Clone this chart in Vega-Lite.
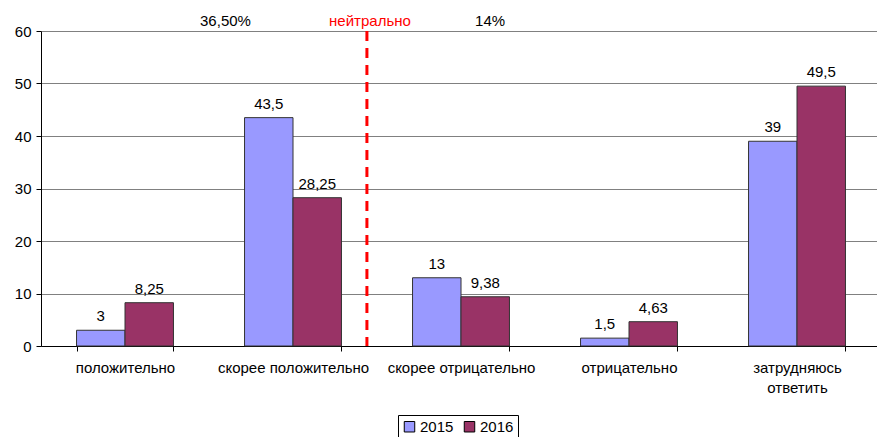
{
  "$schema": "https://vega.github.io/schema/vega-lite/v6.json",
  "width": 840,
  "height": 315,
  "autosize": {"type": "none"},
  "padding": {"left": 41, "top": 31, "right": 0, "bottom": 91},
  "background": "white",
  "config": {
    "font": "Liberation Sans",
    "view": {"stroke": null},
    "axis": {"labelFont": "Liberation Sans", "labelColor": "black", "labelFontSize": 15}
  },
  "datasets": {
    "bars": [
      {"cat": "положительно", "year": "2015", "value": 3, "label": "3"},
      {"cat": "положительно", "year": "2016", "value": 8.25, "label": "8,25"},
      {"cat": "скорее положительно", "year": "2015", "value": 43.5, "label": "43,5"},
      {"cat": "скорее положительно", "year": "2016", "value": 28.25, "label": "28,25"},
      {"cat": "скорее отрицательно", "year": "2015", "value": 13, "label": "13"},
      {"cat": "скорее отрицательно", "year": "2016", "value": 9.38, "label": "9,38"},
      {"cat": "отрицательно", "year": "2015", "value": 1.5, "label": "1,5"},
      {"cat": "отрицательно", "year": "2016", "value": 4.63, "label": "4,63"},
      {"cat": "затрудняюсь ответить", "year": "2015", "value": 39, "label": "39"},
      {"cat": "затрудняюсь ответить", "year": "2016", "value": 49.5, "label": "49,5"}
    ],
    "notes": [
      {"pos": 1.098, "y": 62, "text": "36,50%", "kind": "plain"},
      {"pos": 1.958, "y": 62, "text": "нейтрально", "kind": "red"},
      {"pos": 2.673, "y": 62, "text": "14%", "kind": "plain"}
    ],
    "divider": [{"pos": 1.94}]
  },
  "layer": [
    {
      "layer": [
        {
          "data": {"name": "bars"},
          "mark": {"type": "bar", "stroke": "#333333", "strokeWidth": 1},
          "encoding": {
            "x": {
              "field": "cat", "type": "nominal", "sort": null,
              "scale": {"paddingInner": 0.423, "paddingOuter": 0.2115},
              "axis": {
                "title": null, "labelAngle": 0, "domainColor": "black", "tickColor": "black",
                "tickBand": "extent", "tickSize": 5, "labelPadding": 9,
                "labelLineHeight": 20,
                "labelExpr": "datum.label == 'затрудняюсь ответить' ? ['затрудняюсь', 'ответить'] : datum.label"
              }
            },
            "xOffset": {"field": "year", "type": "nominal"},
            "y": {
              "field": "value", "type": "quantitative",
              "scale": {"domain": [0, 60], "nice": false},
              "axis": {
                "title": null, "values": [0, 10, 20, 30, 40, 50, 60],
                "domainColor": "black", "tickColor": "black", "tickSize": 5,
                "labelPadding": 5, "gridColor": "#808080", "gridOpacity": 1
              }
            },
            "color": {
              "field": "year", "type": "nominal",
              "scale": {"domain": ["2015", "2016"], "range": ["#9999FF", "#993366"]},
              "legend": {
                "title": null, "orient": "none", "legendX": 357, "legendY": 384,
                "direction": "horizontal", "symbolType": "square", "symbolSize": 110,
                "symbolStrokeColor": "black", "symbolStrokeWidth": 1,
                "labelFontSize": 15, "labelColor": "black", "labelFont": "Liberation Sans",
                "strokeColor": "black", "padding": 4, "columnPadding": 8,
                "labelOffset": 3, "fillColor": "white"
              }
            }
          }
        },
        {
          "data": {"name": "bars"},
          "mark": {"type": "text", "baseline": "bottom", "dy": -6, "fontSize": 15, "color": "black"},
          "encoding": {
            "x": {"field": "cat", "type": "nominal", "sort": null},
            "xOffset": {"field": "year", "type": "nominal"},
            "y": {"field": "value", "type": "quantitative"},
            "text": {"field": "label"}
          }
        }
      ]
    },
    {
      "layer": [
        {
          "data": {"name": "divider"},
          "mark": {"type": "rule", "color": "#FF0000", "strokeWidth": 3, "strokeDash": [10, 7]},
          "encoding": {
            "x": {"field": "pos", "type": "quantitative", "scale": {"domain": [0, 5], "nice": false, "zero": false}, "axis": null}
          }
        },
        {
          "data": {"name": "notes"},
          "mark": {"type": "text", "fontSize": 15, "baseline": "middle"},
          "encoding": {
            "x": {"field": "pos", "type": "quantitative", "axis": null},
            "y": {"field": "y", "type": "quantitative"},
            "text": {"field": "text"},
            "color": {"field": "kind", "type": "nominal", "scale": {"domain": ["plain", "red"], "range": ["black", "#FF0000"]}, "legend": null}
          }
        }
      ]
    }
  ],
  "resolve": {"scale": {"x": "independent", "color": "independent"}}
}
